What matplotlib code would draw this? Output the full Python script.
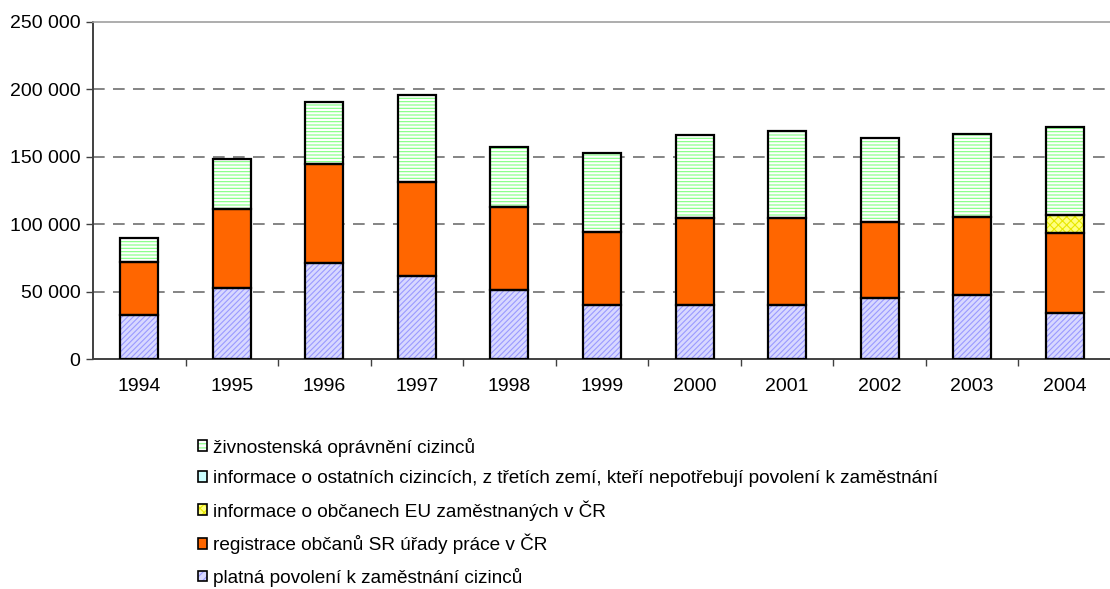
import numpy as np
import matplotlib
matplotlib.use("Agg")
import matplotlib.pyplot as plt
from matplotlib.patches import Patch
from matplotlib.ticker import FuncFormatter

plt.rcParams['font.family'] = ['Liberation Sans', 'DejaVu Sans']
plt.rcParams['hatch.linewidth'] = 0.8

roky = ["1994", "1995", "1996", "1997", "1998", "1999", "2000", "2001", "2002", "2003", "2004"]
# hodnoty
povoleni = [32900, 52700, 71200, 61500, 51000, 40000, 40000, 40000, 45500, 47500, 34400]
registrace_sr = [38900, 58600, 73800, 70000, 61500, 54000, 64500, 64500, 56000, 57800, 59100]
obcane_eu = [0, 0, 0, 0, 0, 0, 0, 0, 0, 0, 13000]
ostatni = [0, 0, 0, 0, 0, 0, 0, 0, 0, 0, 0]
zivnostenska = [18300, 37100, 46000, 64700, 44750, 59000, 62000, 65000, 62250, 61400, 65500]

nazvy = ["platná povolení k zaměstnání cizinců",
         "registrace občanů SR úřady práce v ČR",
         "informace o občanech EU zaměstnaných v ČR",
         "informace o ostatních cizincích, z třetích zemí, kteří nepotřebují povolení k zaměstnání",
         "živnostenská oprávnění cizinců"]

# (výplň, šrafování, barva šrafování)
styly = [("#d8d8ff", "//////", "#9a9aff"),
         ("#ff6600", None, None),
         ("#ffff80", "xxxx", "#e8e800"),
         ("#ccffff", None, None),
         ("#ffffff", "-----", "#80ff80")]

serie = [povoleni, registrace_sr, obcane_eu, ostatni, zivnostenska]

fig = plt.figure(figsize=(11.1, 5.89), dpi=100)
ax = fig.add_axes([93 / 1110, 1 - 359 / 589, 1018 / 1110, 337 / 589])

x = np.arange(len(roky))
sirka = 0.41
dole = np.zeros(len(roky))
for data, (fc, hatch, hc) in zip(serie, styly):
    data = np.array(data, dtype=float)
    if hatch:
        ax.bar(x, data, sirka, bottom=dole, color=fc, hatch=hatch,
               edgecolor=hc, linewidth=0, zorder=2)
    else:
        ax.bar(x, data, sirka, bottom=dole, color=fc, linewidth=0, zorder=2)
    maska = data > 0
    ax.bar(x[maska], data[maska], sirka, bottom=dole[maska], facecolor="none",
           edgecolor="black", linewidth=1.6, zorder=3)
    dole += data

# mřížka
for y in [50000, 100000, 150000, 200000]:
    ax.axhline(y, color="#707070", linewidth=1.2, dashes=(7, 5), zorder=1)

ax.set_xlim(-0.5, len(roky) - 0.5)
ax.set_ylim(0, 250000)
ax.set_yticks(np.arange(0, 250001, 50000))
ax.yaxis.set_major_formatter(FuncFormatter(lambda v, p: f"{int(v):,}".replace(",", " ")))
ax.set_xticks(x)
ax.set_xticklabels(roky)
ax.set_xticks(np.arange(0.5, len(roky) - 1, 1.0), minor=True)
ax.tick_params(axis="x", which="major", length=0, pad=14, labelsize=14)
ax.tick_params(axis="x", which="minor", length=5, width=1, color="#404040")
ax.tick_params(axis="y", length=5, width=1, color="#404040", pad=4, labelsize=14)

ax.spines["right"].set_visible(False)
ax.spines["top"].set_color("#a0a0a0")
ax.spines["top"].set_linewidth(1.2)
ax.spines["left"].set_color("#404040")
ax.spines["left"].set_linewidth(1.4)
ax.spines["bottom"].set_color("#404040")
ax.spines["bottom"].set_linewidth(1.4)

# legenda pod grafem
handles = []
for fc, hatch, hc in styly:
    obrys = Patch(facecolor="none", edgecolor="black", linewidth=1.2)
    if hatch:
        vypln = Patch(facecolor=fc, hatch=hatch[:4], edgecolor=hc, linewidth=0)
    else:
        vypln = Patch(facecolor=fc, linewidth=0)
    handles.append((vypln, obrys))
leg = fig.legend(handles[::-1], nazvy[::-1], loc="upper left",
                 bbox_to_anchor=(188 / 1110, 1 - 428 / 589), frameon=False,
                 fontsize=13.7, handlelength=0.5, handleheight=0.5,
                 handletextpad=0.3, labelspacing=0.7, borderpad=0)

fig.savefig("out.png", dpi=100)
